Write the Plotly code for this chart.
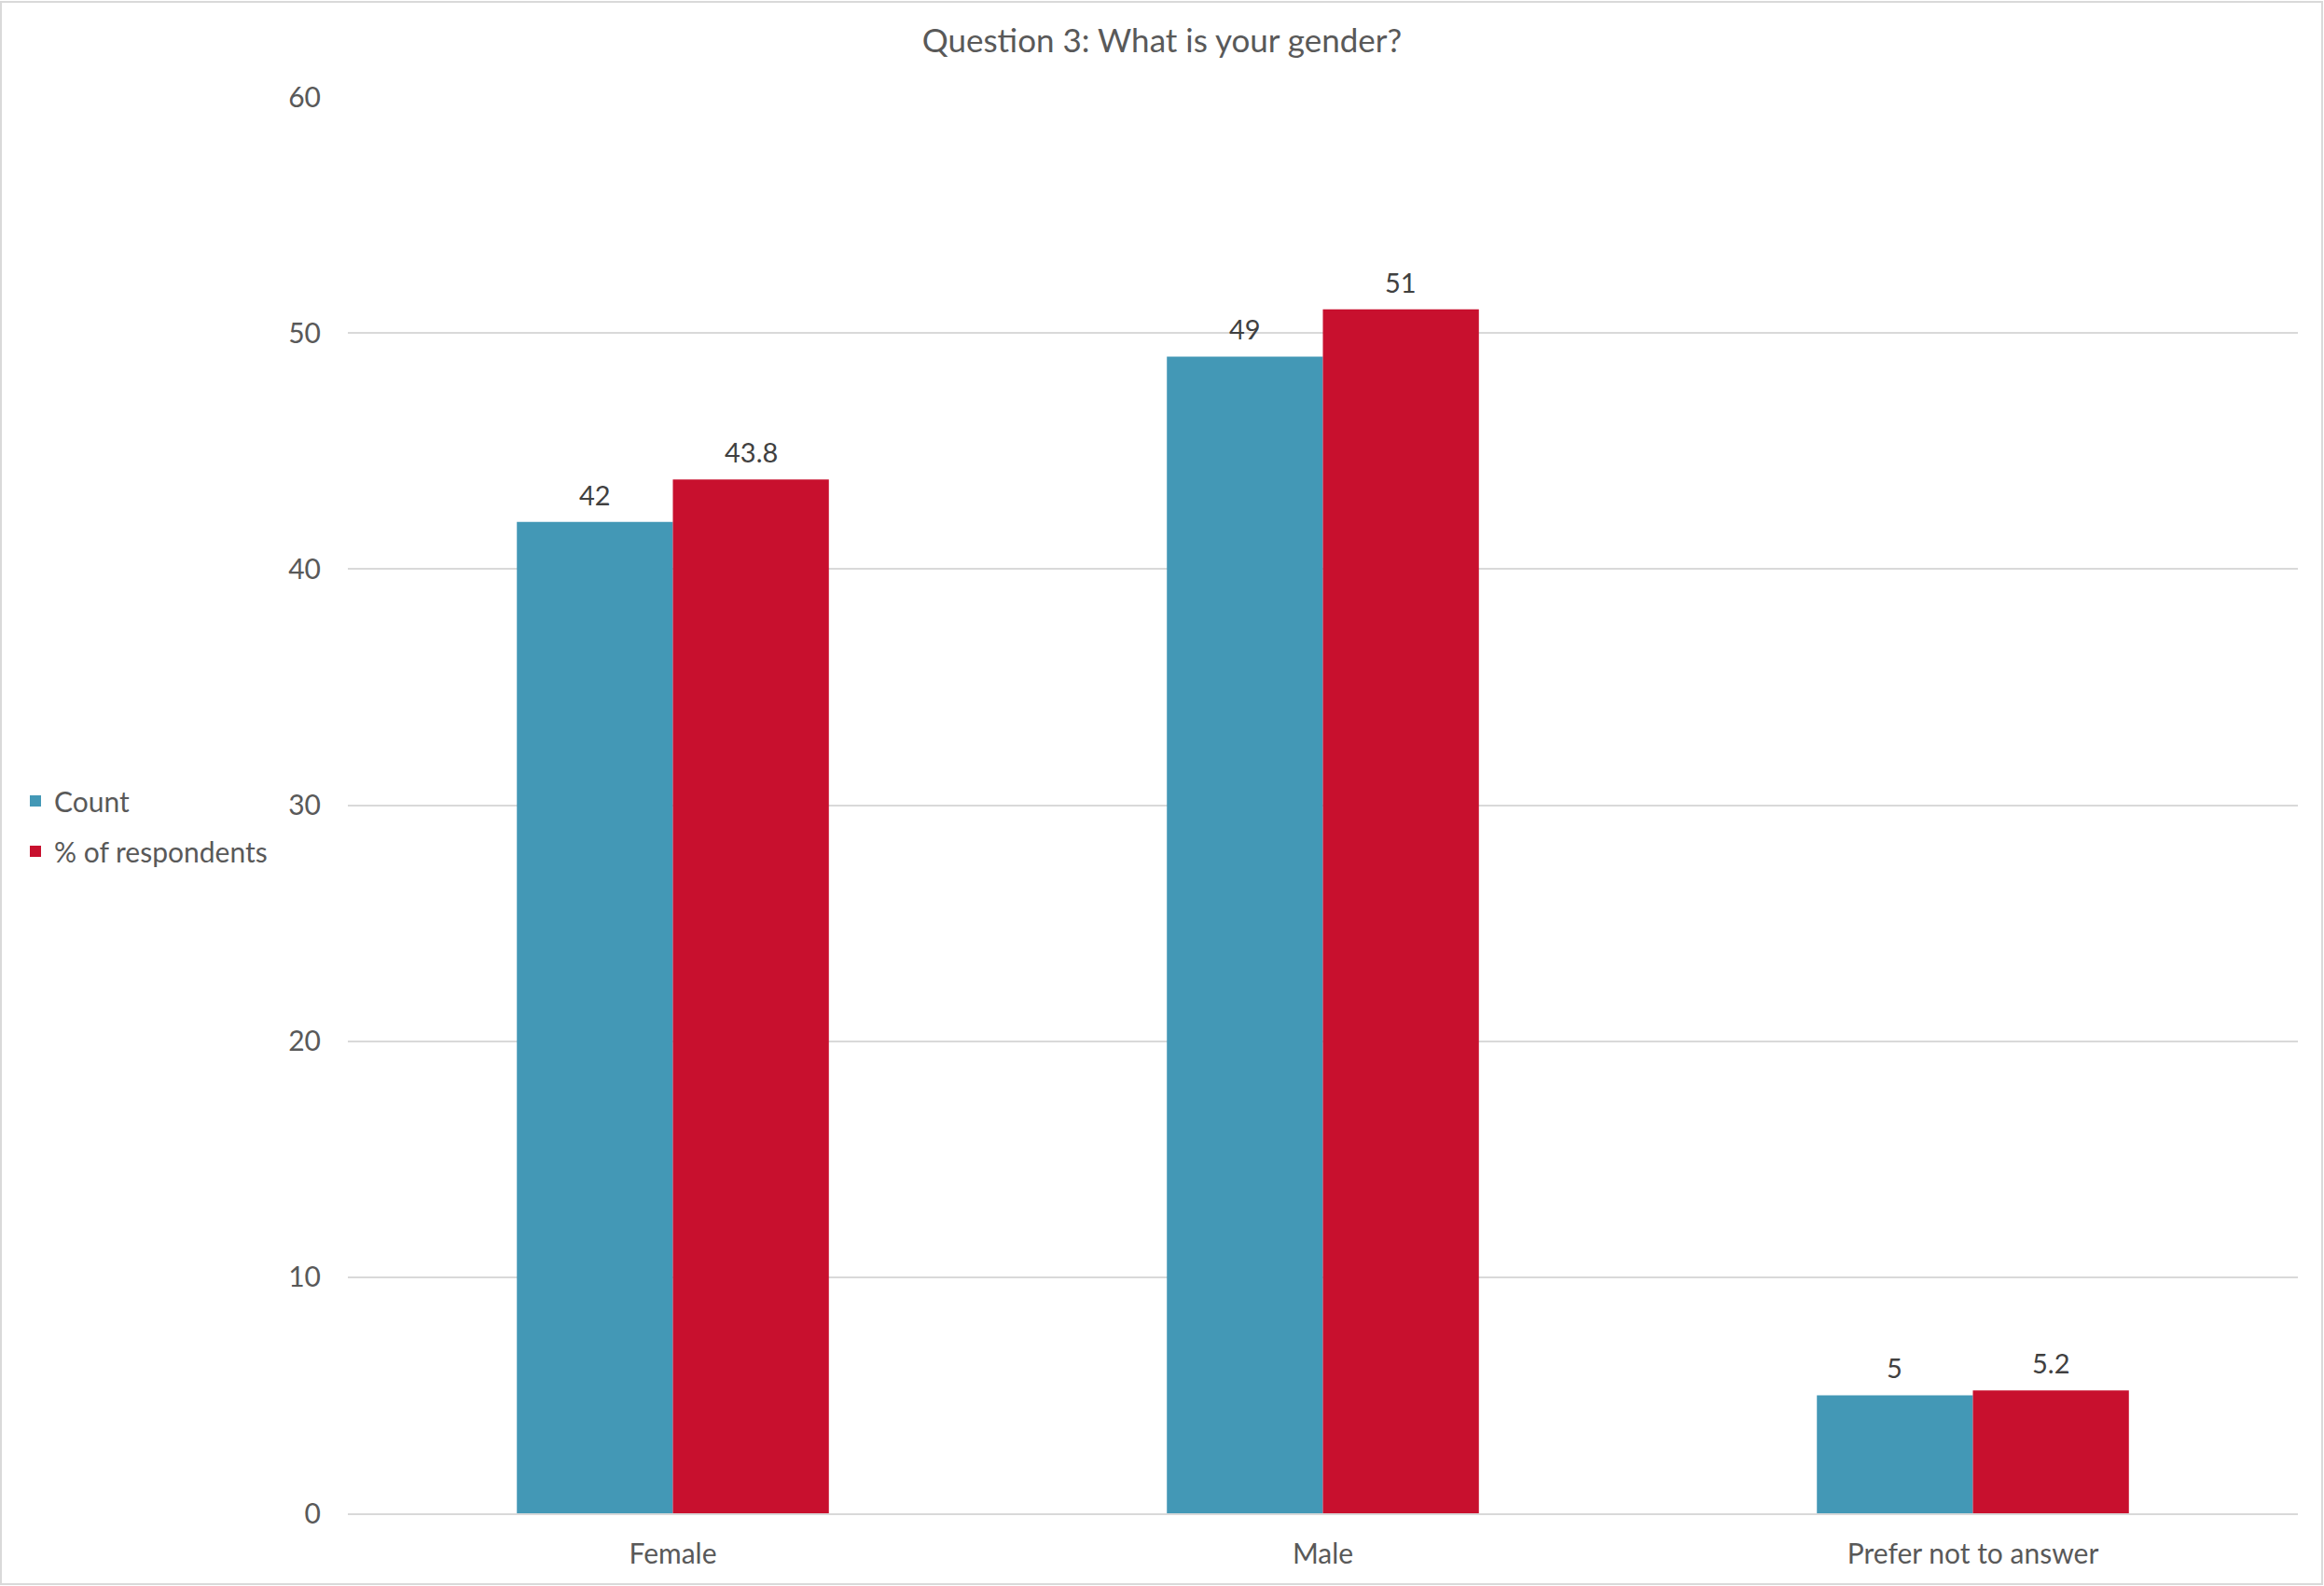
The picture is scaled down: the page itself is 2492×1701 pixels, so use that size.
import plotly.graph_objects as go

categories = ["Female", "Male", "Prefer not to answer"]
count_values = [42, 49, 5]
pct_values = [43.8, 51, 5.2]
y_ticks = [0, 10, 20, 30, 40, 50, 60]

FONT = "Lato"
GRAY = "#595959"
LABEL = "#404040"

L, R, T, B = 373, 28, 104, 78
W, H = 2492, 1701
pw, ph = W - L - R, H - T - B
BARGAP = 0.52
bar_w = pw / len(categories) * (1 - BARGAP) / 2

fig = go.Figure()
fig.add_trace(go.Bar(
    name="Count", x=categories, y=count_values,
    marker=dict(color="#4398B6", line=dict(width=0)),
    legendgroup="a",
))
fig.add_trace(go.Bar(
    name="% of respondents", x=categories, y=pct_values,
    marker=dict(color="#C8102E", line=dict(width=0)),
    legendgroup="b",
))

annotations = []
for vals, sh in ((count_values, -bar_w / 2), (pct_values, bar_w / 2)):
    for c, v in zip(categories, vals):
        annotations.append(dict(
            x=c, y=v, xref="x", yref="y", text=str(v), showarrow=False,
            xshift=sh, yshift=10, yanchor="bottom", xanchor="center",
            font=dict(family=FONT, size=29, color=LABEL),
        ))

fig.update_layout(
    width=W, height=H,
    margin=dict(l=L, r=R, t=T, b=B),
    paper_bgcolor="white", plot_bgcolor="white",
    barmode="group", bargap=BARGAP, bargroupgap=0,
    font=dict(family=FONT, size=30, color=GRAY),
    title=dict(text="Question 3: What is your gender?", x=0.5, xref="container",
               xanchor="center", y=1 - 44 / H, yanchor="middle",
               font=dict(family=FONT, size=35, color=GRAY)),
    legend=dict(x=(18 - L) / pw, xanchor="left", y=(1623 - 886) / ph, yanchor="middle",
                font=dict(family=FONT, size=30, color=GRAY),
                tracegroupgap=12, bgcolor="rgba(0,0,0,0)"),
    showlegend=True,
    xaxis=dict(showgrid=False, showline=True, linecolor="#D9D9D9", linewidth=2,
               ticks="", tickfont=dict(family=FONT, size=30, color=GRAY),
               ticklabelstandoff=16),
    yaxis=dict(range=[0, 60], tickvals=y_ticks, showgrid=True, gridcolor="#D9D9D9",
               gridwidth=2, zeroline=False, showline=False, ticks="",
               tickfont=dict(family=FONT, size=30, color=GRAY),
               ticklabelstandoff=28),
    annotations=annotations,
    shapes=[dict(type="rect", xref="paper", yref="paper",
                 x0=(1 - L) / pw, x1=(W - 2 - L) / pw,
                 y0=-(B - 2) / ph, y1=1 + (T - 2) / ph,
                 line=dict(color="#D9D9D9", width=2), layer="below")],
)

fig.write_html("out.html", config={"displayModeBar": False},
               post_script="document.body.style.margin='0';document.body.style.overflow='hidden';")
